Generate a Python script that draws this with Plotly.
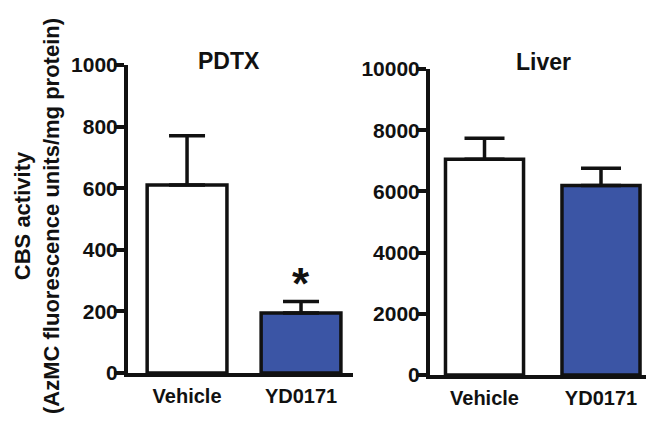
import plotly.graph_objects as go

categories = ["Vehicle", "YD0171"]
pdtx_values = [610, 195]
pdtx_errors = [160, 37]
liver_values = [7050, 6190]
liver_errors = [690, 570]
pdtx_ticks = [0, 200, 400, 600, 800, 1000]
liver_ticks = [0, 2000, 4000, 6000, 8000, 10000]
bar_colors = ["#ffffff", "#3b55a5"]
y_title_lines = ["CBS activity", "(AzMC fluorescence units/mg protein)"]

FONT = "Liberation Sans, Arial, sans-serif"
INK = "#111111"

# page body has an 8px margin; the figure is placed at (8, 8)
OFF = 8
W, H = 654 - OFF, 444 - OFF


def px(x):
    return (x - OFF) / W


def py(y):
    return 1 - (y - OFF) / H


fig = go.Figure()

fig.add_trace(go.Bar(
    x=categories, y=pdtx_values, xaxis="x", yaxis="y",
    marker=dict(color=bar_colors, line=dict(color=INK, width=3.5)),
    width=0.7,
    error_y=dict(type="data", array=pdtx_errors, arrayminus=[0, 0], symmetric=False,
                 color=INK, thickness=3.5, width=18),
    showlegend=False,
))
fig.add_trace(go.Bar(
    x=categories, y=liver_values, xaxis="x2", yaxis="y2",
    marker=dict(color=bar_colors, line=dict(color=INK, width=3.5)),
    width=0.67,
    error_y=dict(type="data", array=liver_errors, arrayminus=[0, 0], symmetric=False,
                 color=INK, thickness=3.5, width=20),
    showlegend=False,
))

tickfont = dict(family=FONT, size=21, color=INK, weight="bold")
xfont = dict(family=FONT, size=20, color=INK, weight="bold")

common_x = dict(type="category", showline=True, linewidth=4, linecolor=INK,
                ticks="", showgrid=False, zeroline=False, tickfont=xfont,
                ticklabelstandoff=2, automargin=False)
common_y = dict(showline=True, linewidth=4, linecolor=INK, ticks="outside",
                ticklen=10, tickwidth=4, tickcolor=INK, showgrid=False,
                zeroline=False, tickfont=tickfont, ticklabelstandoff=-8,
                automargin=False)

fig.update_layout(
    width=W, height=H,
    margin=dict(l=0, r=0, t=0, b=0, pad=0, autoexpand=False),
    paper_bgcolor="white", plot_bgcolor="white",
    xaxis=dict(domain=[px(128), px(353)], range=[-0.518, 1.456], anchor="y", **common_x),
    yaxis=dict(domain=[py(373), py(65)], range=[0, 1000], tickvals=pdtx_ticks,
               ticktext=[str(v) for v in pdtx_ticks], anchor="x", **common_y),
    xaxis2=dict(domain=[px(430), 1.0], range=[-0.468, 1.455], anchor="y2", **common_x),
    yaxis2=dict(domain=[py(375), py(69)], range=[0, 10000], tickvals=liver_ticks,
                ticktext=[str(v) for v in liver_ticks], anchor="x2", **common_y),
)

titlefont = dict(family=FONT, size=23, color=INK, weight="bold")
fig.add_annotation(text="PDTX", xref="paper", yref="paper", x=px(229), y=py(61),
                   xanchor="center", yanchor="middle", showarrow=False, font=titlefont)
fig.add_annotation(text="Liver", xref="paper", yref="paper", x=px(543), y=py(62),
                   xanchor="center", yanchor="middle", showarrow=False, font=titlefont)

fig.add_annotation(text="<br>".join(y_title_lines), xref="paper", yref="paper",
                   x=px(37), y=py(216), xanchor="center", yanchor="middle",
                   textangle=-90, showarrow=False, borderpad=0,
                   font=dict(family=FONT, size=22, color=INK, weight="bold"))

fig.add_annotation(text="*", xref="x", yref="y", x=categories[1],
                   y=pdtx_values[1] + pdtx_errors[1], yanchor="middle", xanchor="center",
                   yshift=18, showarrow=False,
                   font=dict(family=FONT, size=44, color=INK, weight="bold"))

fig.write_html("out.html")
